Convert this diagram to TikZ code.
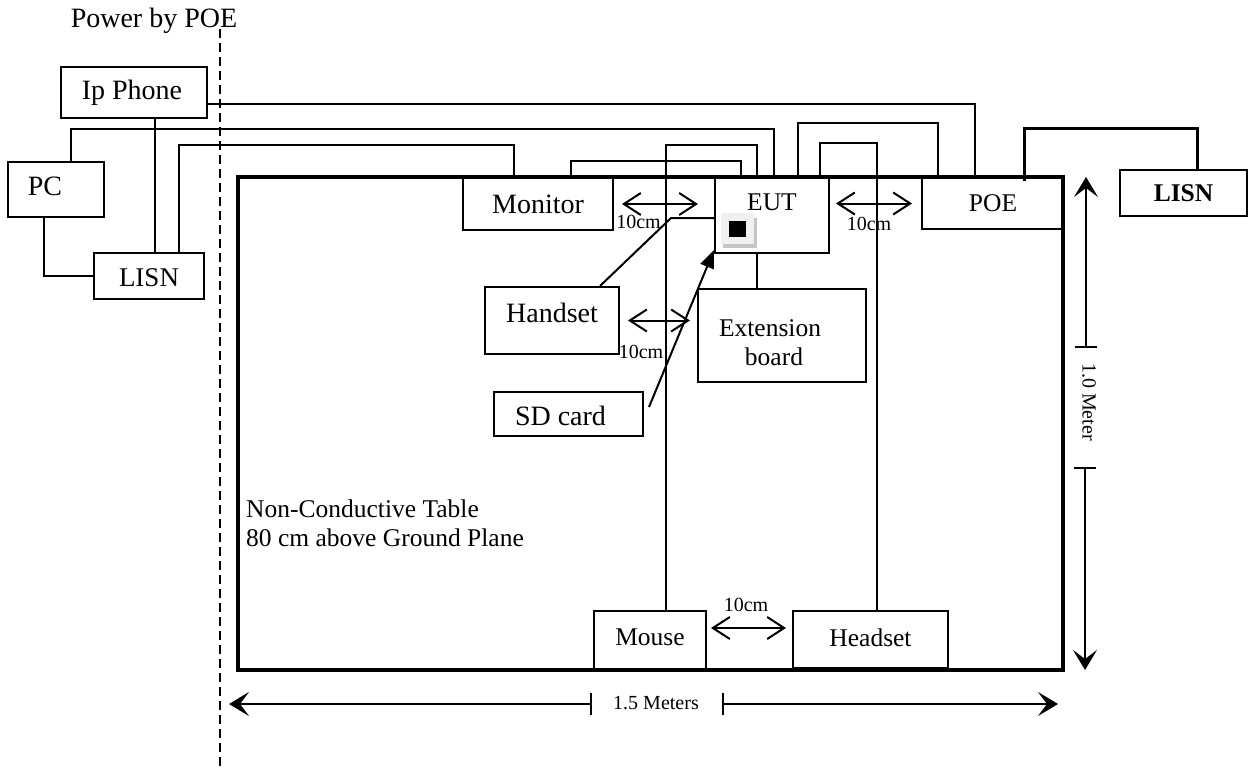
\documentclass[tikz,border=0pt]{standalone}
\usepackage{fontspec}
\setmainfont{Liberation Serif}
\usetikzlibrary{arrows.meta}

\begin{document}
\begin{tikzpicture}[
  x=1pt,y=-1pt,
  >=Stealth,
  every node/.style={inner sep=0,font=\fontsize{28}{30}\selectfont},
  box/.style={rectangle,draw,line width=2pt},
  midtext/.style={font=\fontsize{25.5}{29}\selectfont},
  smalltext/.style={font=\fontsize{20}{22}\selectfont},
  wire/.style={line width=2pt},
  gap/.style={line width=2pt,{Straight Barb[length=17pt,width=22pt]}-{Straight Barb[length=17pt,width=22pt]}},
  span/.style={line width=2pt,{Bar[width=22pt]}-{Stealth[length=20pt,width=24pt,inset=9pt]}},
]
  \useasboundingbox (0,0) rectangle (1249,770);

  \node[draw,line width=3.5pt,minimum width=825pt,minimum height=493pt] (table) at (650.5,423.5) {};

  \node[box,minimum width=146pt,minimum height=51pt] (ip) at (134,92.5) {Ip Phone\hspace*{4pt}};
  \node[box,minimum width=96pt,minimum height=55pt,text depth=6pt] (pc) at (56,189.5) {PC\hspace*{22pt}};
  \node[box,minimum width=110pt,minimum height=46pt,text height=22pt,font=\fontsize{27}{30}\selectfont] (lisnl) at (149,276) {LISN};
  \node[box,minimum width=150pt,minimum height=52pt] (monitor) at (538,204) {Monitor};
  \node[box,midtext,minimum width=114pt,minimum height=75pt,text depth=26pt] (eut) at (772,215.5) {EUT};
  \node[box,midtext,minimum width=142pt,minimum height=51pt] (poe) at (993,203.5) {POE};
  \node[box,midtext,minimum width=127pt,minimum height=46pt] (lisnr) at (1183.5,193) {\bfseries LISN};
  \node[box,minimum width=134pt,minimum height=67pt,text depth=16pt] (handset) at (552,320.5) {Handset};
  \node[box,midtext,align=center,minimum width=168pt,minimum height=93pt,text height=61pt] (ext) at (782,335.5)
    {Extension\hspace*{24pt}\\board\hspace*{16pt}};
  \node[box,minimum width=149pt,minimum height=44pt,text height=23pt] (sd) at (568.5,414) {SD card\hspace*{16pt}};
  \node[box,midtext,minimum width=112pt,minimum height=58pt,text depth=5pt] (mouse) at (650,640) {Mouse};
  \node[box,midtext,minimum width=155pt,minimum height=57pt,text depth=4pt] (headset) at (870.5,639.5) {Headset};

  \node[fill=gray!45,minimum width=34pt,minimum height=30pt] (iconshadow) at (740,233) {};
  \node[fill=gray!12,minimum width=33pt,minimum height=31pt] (iconback) at (737.5,228.5) {};
  \node[fill=black,minimum width=17pt,minimum height=16pt] (iconfront) at (737.5,229) {};

  \draw[wire] ([yshift=-11.5pt]ip.east) -| ([xshift=-18pt]poe.north);
  \draw[wire] ([xshift=21pt]ip.south) -- ([xshift=6pt]lisnl.north);
  \draw[wire] ([xshift=15pt]pc.north) -- ++(0,-32) -| ([xshift=2pt]eut.north);
  \draw[wire] ([xshift=-12pt]pc.south) |- (lisnl.west);
  \draw[wire] ([xshift=30pt]lisnl.north) -- ++(0,-107) -| ([xshift=-24pt]monitor.north);
  \draw[wire] ([xshift=33pt]monitor.north) -- ++(0,-16) -| ([xshift=-31pt]eut.north);
  \draw[wire] ([xshift=16pt]mouse.north) -- ++(0,-465) -| ([xshift=-15pt]eut.north);
  \draw[wire] ([xshift=26pt]eut.north) -- ++(0,-54) -| ([xshift=-55pt]poe.north);
  \draw[wire] ([xshift=6.5pt]headset.north) -- ++(0,-467) -| ([xshift=48pt]eut.north);
  \draw[line width=3pt] ([shift={(31pt,-4pt)}]poe.north) -- ++(0,-52) -| ([xshift=13.5pt]lisnr.north);
  \draw[wire] ([xshift=-15pt]eut.south) -- ([xshift=-25pt]ext.north);

  \coordinate (handsetbend) at (671,218);
  \draw[wire] ([xshift=48pt]handset.north) -- (handsetbend) -- (handsetbend -| eut.west);
  \draw[wire,-{Triangle[length=18pt,width=14pt]}] ([shift={(5pt,7pt)}]sd.east) -- ([yshift=4pt]eut.south west);

  \draw[gap] ([xshift=8pt]monitor.east) -- ([xshift=-16pt]monitor.east -| eut.west);
  \draw[gap] ([xshift=6pt]poe.west -| eut.east) -- ([xshift=-9pt]poe.west);
  \draw[gap] ([xshift=8pt]handset.east) -- ([xshift=-7pt]handset.east -| ext.west);
  \draw[gap] ([shift={(4pt,12pt)}]mouse.east) -- ([shift={(-6pt,12pt)}]mouse.east -| headset.west);

  \node[smalltext] (gapa) at (638.5,222) {10cm};
  \node[smalltext] (gapb) at (869,224) {10cm};
  \node[smalltext] (gapc) at (641,352) {10cm};
  \node[smalltext] (gapd) at (746,605) {10cm};

  \node[smalltext] (width) at (656,703) {1.5 Meters};
  \coordinate (widthl) at (592,704);
  \coordinate (widthlend) at (229,704);
  \coordinate (widthr) at (722,704);
  \coordinate (widthrend) at (1058,704);
  \draw[span] (widthl) -- (widthlend);
  \draw[span] (widthr) -- (widthrend);

  \node[smalltext,rotate=-90] (height) at (1089,402) {1.0 Meter};
  \coordinate (heightu) at (1086,348);
  \coordinate (heightuend) at (1086,177);
  \coordinate (heightd) at (1085,467);
  \coordinate (heightdend) at (1085,670);
  \draw[span] (heightu) -- (heightuend);
  \draw[span] (heightd) -- (heightdend);

  \coordinate (dashtop) at (220,29);
  \coordinate (dashbottom) at (220,770);
  \draw[line width=2pt,dash pattern=on 9pt off 5pt] (dashtop) -- (dashbottom);

  \node (power) at (154,21) {Power by POE};
  \node[midtext,align=left,anchor=north west] (tablenote) at (246,499.5) {Non-Conductive Table\\80 cm above Ground Plane};
\end{tikzpicture}
\end{document}
